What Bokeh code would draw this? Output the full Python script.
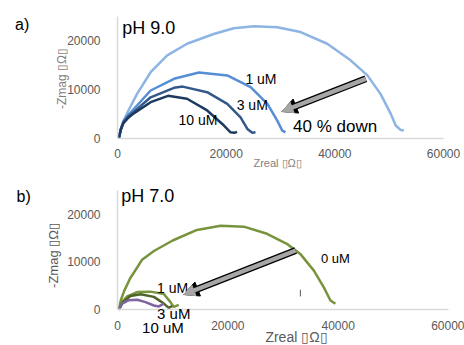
import math
from bokeh.plotting import figure
from bokeh.models import Range1d, FixedTicker, Label, Arrow, NormalHead
from bokeh.layouts import column
from bokeh.embed import file_html
from bokeh.resources import INLINE

FONT = "Liberation Sans"

# ---- data: panel a) pH 9.0 (Zreal, -Zmag in ohm) ----
a_0uM_x = [250, 600, 1100, 2100, 3600, 6100, 9150, 12800, 17700, 21400, 25100, 29400, 33700, 38600, 42900, 46000, 48400, 50300, 51200, 52100, 52700]
a_0uM_y = [0, 1900, 3600, 5900, 9100, 13550, 17000, 19400, 21400, 22600, 23000, 22800, 21800, 19400, 16000, 12900, 9100, 5000, 2600, 1700, 1600]
a_1uM_x = [250, 600, 1100, 2000, 3000, 6100, 10400, 15000, 20200, 24500, 27600, 29400, 30300, 30900]
a_1uM_y = [0, 1800, 3400, 4800, 6000, 9800, 12200, 13500, 12900, 10500, 7050, 3600, 1600, 1200]
a_3uM_x = [250, 600, 1100, 2000, 3000, 6100, 10400, 12000, 16500, 20200, 22650, 23900, 24800, 25400]
a_3uM_y = [0, 1800, 3300, 4500, 5400, 8400, 10350, 10600, 9450, 7050, 4300, 1900, 1100, 1200]
a_10uM_x = [250, 600, 1100, 2000, 3000, 6100, 9300, 12800, 16500, 19600, 20800, 21500, 22000]
a_10uM_y = [0, 1700, 3100, 4200, 5100, 7400, 8700, 8100, 5700, 2600, 1200, 1100, 1300]
a_arrow_x = [45700, 30260]
a_arrow_y = [12200, 5480]

# ---- data: panel b) pH 7.0 ----
b_0uM_x = [250, 600, 1200, 2300, 3600, 4400, 6600, 10000, 14400, 18700, 22900, 27100, 30700, 33200, 35600, 37400, 38600, 39500]
b_0uM_y = [0, 2000, 3900, 6600, 8900, 10400, 12300, 14500, 16700, 17600, 17400, 15900, 13800, 11600, 8200, 4700, 1950, 1250]
b_1uM_x = [250, 900, 1750, 3570, 6000, 8400, 9600, 10200, 11100]
b_1uM_y = [0, 1700, 2800, 3700, 3800, 3300, 1600, 600, 1050]
b_3uM_x = [250, 900, 2350, 4170, 6600, 8400, 9300, 9900]
b_3uM_y = [0, 1500, 2900, 3250, 2700, 1300, 400, 800]
b_10uM_x = [250, 850, 2050, 3570, 5070, 6580, 7480, 8400]
b_10uM_y = [0, 1300, 2000, 2100, 1600, 900, 700, 1300]
b_arrow_x = [32300, 12000]
b_arrow_y = [12400, 3200]
b_mark_x = [33150]
b_mark_y0 = [2800]
b_mark_y1 = [4200]

x_ticks = [0, 20000, 40000, 60000]
y_ticks = [0, 10000, 20000]
x_title = "Zreal ▯Ω▯"
y_title = "-Zmag ▯Ω▯"


def make_fig(height, xr, yr):
    p = figure(width=464, height=height,
               min_border_left=0, min_border_right=0,
               min_border_top=0, min_border_bottom=0,
               x_range=Range1d(*xr), y_range=Range1d(*yr),
               output_backend="svg", toolbar_location=None)
    p.grid.visible = False
    p.outline_line_color = None
    for ax in (p.xaxis[0], p.yaxis[0]):
        ax.fixed_location = 0
        ax.axis_line_color = "#d9d9d9"
        ax.axis_line_width = 1.5
        ax.major_tick_line_color = None
        ax.minor_tick_line_color = None
        ax.major_label_text_font = FONT
        ax.major_label_text_font_size = "12px"
        ax.major_label_text_color = "#595959"
    p.xaxis.bounds = (0, 60000)
    p.yaxis.bounds = (0, 25000)
    p.xaxis.ticker = FixedTicker(ticks=x_ticks)
    p.yaxis.ticker = FixedTicker(ticks=y_ticks)
    p.xaxis.major_label_standoff = 5
    p.yaxis.major_label_standoff = 11
    return p


def block_arrow(p, xs, ys):
    p.add_layout(Arrow(end=NormalHead(size=15, fill_color="black", line_color="black"),
                       x_start=xs[0], y_start=ys[0], x_end=xs[1], y_end=ys[1],
                       line_color="black", line_width=7))
    p.add_layout(Arrow(end=NormalHead(size=11, fill_color="#a6a6a6", line_color="#a6a6a6"),
                       x_start=xs[0], y_start=ys[0], x_end=xs[1], y_end=ys[1],
                       line_color="#a6a6a6", line_width=4.5))


def lab(p, x, y, text, size, align="center", color="black", angle=0.0):
    p.add_layout(Label(x=x, y=y, text=text, text_font=FONT, text_font_size=size,
                       text_align=align, text_baseline="middle", text_color=color,
                       angle=angle))


# ---------------- panel a ----------------
p1 = make_fig(170, (-21534, 63865), (-6635, 28287))
p1.line(a_0uM_x, a_0uM_y, line_color="#8db4e2", line_width=2.5)
p1.line(a_1uM_x, a_1uM_y, line_color="#558ed5", line_width=2.5)
p1.line(a_3uM_x, a_3uM_y, line_color="#33598a", line_width=2.5)
p1.line(a_10uM_x, a_10uM_y, line_color="#1f3a60", line_width=2.5)
block_arrow(p1, a_arrow_x, a_arrow_y)
lab(p1, 26400, 12100, "1 uM", "14px")
lab(p1, 24800, 6860, "3 uM", "14px")
lab(p1, 14800, 3780, "10 uM", "14px")
lab(p1, 40050, 2340, "40 % down", "17px")
lab(p1, 870, 22570, "pH 9.0", "18px", align="left")
lab(p1, -17550, 23350, "a)", "16px")
lab(p1, 29470, -5000, x_title, "11px", color="#7f7f7f")
lab(p1, -10130, 12260, y_title, "12px", color="#7f7f7f", angle=math.pi / 2)

# ---------------- panel b ----------------
p2 = make_fig(175, (-21208, 62900), (-7469, 29142))
p2.line(b_0uM_x, b_0uM_y, line_color="#77933c", line_width=2.5)
p2.line(b_1uM_x, b_1uM_y, line_color="#77933c", line_width=2.5)
p2.line(b_3uM_x, b_3uM_y, line_color="#4f6228", line_width=2.5)
p2.line(b_10uM_x, b_10uM_y, line_color="#8064a2", line_width=2.5)
p2.segment(x0=b_mark_x, y0=b_mark_y0, x1=b_mark_x, y1=b_mark_y1, line_color="#595959", line_width=1)
lab(p2, 10000, 4560, "1 uM", "14px")
block_arrow(p2, b_arrow_x, b_arrow_y)
lab(p2, 39500, 10730, "0 uM", "13px")
lab(p2, 10200, -700, "3 uM", "15px")
lab(p2, 8240, -3800, "10 uM", "15px")
lab(p2, 670, 23900, "pH 7.0", "18px", align="left")
lab(p2, -17000, 23600, "b)", "16px")
lab(p2, 32450, -5750, x_title, "14px", color="#595959")
lab(p2, -11600, 11360, y_title, "13px", color="#595959", angle=math.pi / 2)

layout = column(p1, p2, spacing=0)
open("out.html", "w").write(file_html(layout, INLINE))
